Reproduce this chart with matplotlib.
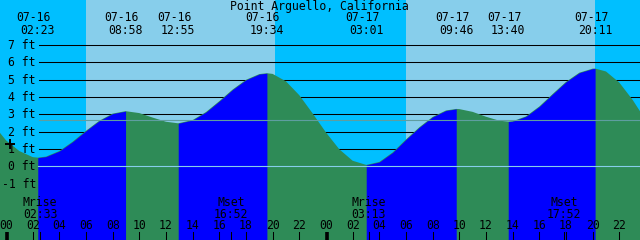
import numpy as np
import matplotlib
matplotlib.use('Agg')
import matplotlib.pyplot as plt

title = 'Point Arguello, California'

# tide height (ft), hours counted from 07-16 00:00
hours = [-1, 0, 1, 2, 2.383, 3, 4, 5, 6, 7, 8, 8.967, 10, 11, 12, 12.917,
         14, 15, 16, 17, 18, 19, 19.567, 20, 21, 22, 23, 24, 25, 26, 27.017,
         28, 29, 30, 31, 32, 33, 33.767, 34, 35, 36, 37, 37.667,
         38, 39, 40, 41, 42, 43, 44, 44.183, 45, 46, 47, 48]
height = [2.45, 1.50, 0.88, 0.53, 0.50, 0.56, 0.88, 1.42, 2.05, 2.63, 3.04, 3.18, 3.07, 2.81, 2.57, 2.48,
          2.67, 3.13, 3.76, 4.43, 4.99, 5.32, 5.37, 5.33, 4.90, 4.10, 3.05, 1.95, 0.98, 0.32, 0.08,
          0.25, 0.80, 1.55, 2.25, 2.85, 3.22, 3.31, 3.30, 3.14, 2.86, 2.63, 2.58,
          2.60, 2.88, 3.45, 4.17, 4.87, 5.40, 5.635, 5.64, 5.47, 4.83, 3.83, 2.64]

# high / low tide events
tide_t = [2.383, 8.967, 12.917, 19.567, 27.017, 33.767, 37.667, 44.183]
tide_date = ['07-16', '07-16', '07-16', '07-16', '07-17', '07-17', '07-17', '07-17']
tide_time = ['02:23', '08:58', '12:55', '19:34', '03:01', '09:46', '13:40', '20:11']

moon_t = [2.55, 16.867, 27.217, 41.867]
moon_name = ['Mrise', 'Mset', 'Mrise', 'Mset']
moon_time = ['02:33', '16:52', '03:13', '17:52']

sunrise = [6.0, 30.0]
sunset = [20.18, 44.18]

ft_levels = [7, 6, 5, 4, 3, 2, 1, 0, -1]
mean_level = 2.66

# pixel geometry of the 640x240 picture
PXH = 13.3333   # px per hour
X0 = 6.0        # px of 07-16 00:00
PXF = 17.333    # px per ft
Y0 = 166.3      # px of 0 ft

def row(y):
    return (Y0 - y) / PXF

def col(x):
    return (x - X0) / PXH

fig = plt.figure(figsize=(6.4, 2.4), dpi=100)
ax = fig.add_axes([0, 0, 1, 1])
ax.axis('off')
xl = (col(0), col(640))
yl = (row(240), row(0))
ax.set_xlim(xl)
ax.set_ylim(yl)

font = dict(family='DejaVu Sans Mono', fontsize=8.3, color='black')

ax.axvspan(xl[0], xl[1], color='#00bfff', lw=0, zorder=0)
for a, b in zip(sunrise, sunset):
    ax.axvspan(a, b, color='#87ceeb', lw=0, zorder=0)

for lv in ft_levels:
    ax.plot([col(39), xl[1]], [lv, lv], color='black', lw=0.75, zorder=1)

t = np.array(hours)
h = np.array(height)
ax.fill_between(t, h, yl[0], color='#2e8b57', lw=0, zorder=2)
bounds = [t[0]] + tide_t + [t[-1]]
for a, b in zip(bounds[:-1], bounds[1:]):
    m = (t >= a) & (t <= b)
    if h[m][-1] > h[m][0]:
        ax.fill_between(t[m], h[m], yl[0], color='#0000ff', lw=0, zorder=3)

ax.plot([col(38), xl[1]], [0, 0], color='#87ceeb', lw=0.8, zorder=4)
ax.plot([col(39), xl[1]], [mean_level, mean_level], color='#5f9ea0', lw=0.8, zorder=4)

for lv in ft_levels:
    ax.text(col(36), row(Y0 - lv * PXF + 4), '%d ft' % lv, ha='right', va='baseline', zorder=5, **font)

ax.plot([col(10)], [row(144)], marker='+', ms=7.2, mew=1.4, color='black', zorder=5)

ax.text(col(319), row(9.5), title, ha='center', va='baseline', zorder=5, **font)
for tt, d, s in zip(tide_t, tide_date, tide_time):
    ax.text(tt - 4 / PXH, row(21), d, ha='center', va='baseline', zorder=5, **font)
    ax.text(tt, row(34.3), s, ha='center', va='baseline', zorder=5, **font)

for tt, n, s in zip(moon_t, moon_name, moon_time):
    ax.text(tt, row(206), n, ha='center', va='baseline', zorder=5, **font)
    ax.text(tt, row(217.7), s, ha='center', va='baseline', zorder=5, **font)
    ax.plot([tt, tt], [row(231.5), yl[0]], color='black', lw=0.75, zorder=5)

for hh in range(0, 50, 2):
    ax.text(hh, row(229.3), '%02d' % (hh % 24), ha='center', va='baseline', zorder=5, **font)
    if hh % 24 == 0:
        ax.plot([hh + 0.1, hh + 0.1], [row(231.5), yl[0]], color='black', lw=2.6, solid_capstyle='butt', zorder=5)
    else:
        ax.plot([hh, hh], [row(231.5), yl[0]], color='black', lw=0.75, zorder=5)

fig.savefig('out.png', dpi=100)
